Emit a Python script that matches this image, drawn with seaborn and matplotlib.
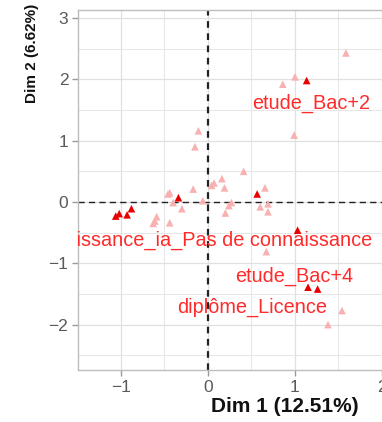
import numpy as np
import pandas as pd
import matplotlib
matplotlib.use("Agg")
import matplotlib.pyplot as plt
import seaborn as sns
from matplotlib.ticker import MultipleLocator

# --- data ---
light_x = [1.586, 1.0, 0.86, 0.99, -0.11, -0.15, 0.41, 0.16, 0.07, 0.04, 0.19, -0.17, 0.655,
           -0.44, -0.46, -0.06, 0.27, 0.24, 0.69, 0.60, 0.69, 0.20, -0.30, -0.40, -0.59,
           -0.61, -0.63, -0.44, 0.67, 1.54, 1.38]
light_y = [2.43, 2.04, 1.92, 1.09, 1.16, 0.90, 0.50, 0.38, 0.31, 0.27, 0.23, 0.21, 0.23,
           0.15, 0.13, 0.02, -0.01, -0.06, -0.03, -0.08, -0.16, -0.18, -0.11, -0.01, -0.24,
           -0.31, -0.35, -0.34, -0.81, -1.77, -2.0]
dark_x = [1.134, 0.565, -0.34, -0.88, -1.02, -1.06, -0.93, 1.03, 1.15, 1.26]
dark_y = [1.98, 0.13, 0.07, -0.11, -0.19, -0.23, -0.21, -0.46, -1.39, -1.42]

label_names = ["etude_Bac+2", "connaissance_ia_Pas de connaissance", "etude_Bac+4", "diplôme_Licence"]
label_x = [1.18, 1.885, 0.99, 0.51]
label_y = [1.60, -0.62, -1.22, -1.72]
label_ha = ["center", "right", "center", "center"]

x_ticks = [-1, 0, 1, 2]
y_ticks = [-2, -1, 0, 1, 2, 3]
x_title = "Dim 1 (12.51%)"
y_title = "Dim 2 (6.62%)"

sns.set_theme(style="white")
plt.rcParams['font.family'] = ['Liberation Sans', 'DejaVu Sans']

df = pd.DataFrame({
    "x": light_x + dark_x,
    "y": light_y + dark_y,
    "grp": ["light"] * len(light_x) + ["dark"] * len(dark_x),
})

fig = plt.figure(figsize=(3.82, 4.22), dpi=100)
W, H = 382, 422
left, right, top, bottom = 78, 386, 10, 370
ax = fig.add_axes([left / W, 1 - bottom / H, (right - left) / W, (bottom - top) / H])

ax.set_xlim(-1.494, 2.046)
ax.set_ylim(-2.74, 3.13)

ax.xaxis.set_minor_locator(MultipleLocator(0.5))
ax.yaxis.set_minor_locator(MultipleLocator(0.5))
ax.set_xticks(x_ticks)
ax.set_yticks(y_ticks)
ax.grid(True, which="major", color="#E0E0E0", lw=0.9)
ax.grid(True, which="minor", color="#E6E6E6", lw=0.7)
ax.set_axisbelow(True)

ax.axvline(0, color="#222222", ls=(0, (3, 2.5)), lw=1.6, zorder=2)
ax.axhline(0, color="#222222", ls=(0, (4.5, 3)), lw=1.0, zorder=2)

sns.scatterplot(data=df, x="x", y="y", hue="grp", hue_order=["light", "dark"],
                palette={"light": "#F8B0B0", "dark": "#E80000"},
                marker="^", s=30, linewidth=0, legend=False, ax=ax, zorder=3)

for name, lx, ly, ha in zip(label_names, label_x, label_y, label_ha):
    ax.text(lx, ly, name, color="#FF2A2A", fontsize=14.3, ha=ha, va="center",
            clip_on=True, zorder=4)

for s in ax.spines.values():
    s.set_color("#BDBDBD")
    s.set_linewidth(1.0)

ax.tick_params(axis="both", which="major", length=4, width=1, color="#9A9A9A",
               labelcolor="#5A5A5A", labelsize=12.5, pad=3, bottom=True, left=True)
ax.tick_params(axis="both", which="minor", length=0)
ax.set_xlabel("")
ax.set_ylabel("")

fig.text(211 / W, 1 - 407 / H, x_title, fontsize=15, fontweight="bold", ha="left",
         va="center", color="#111111")
fig.text(32 / W, 1 - 53 / H, y_title, fontsize=11, fontweight="bold", ha="center",
         va="center", rotation=90, color="#111111")

fig.savefig("out.png", dpi=100, facecolor="white")
